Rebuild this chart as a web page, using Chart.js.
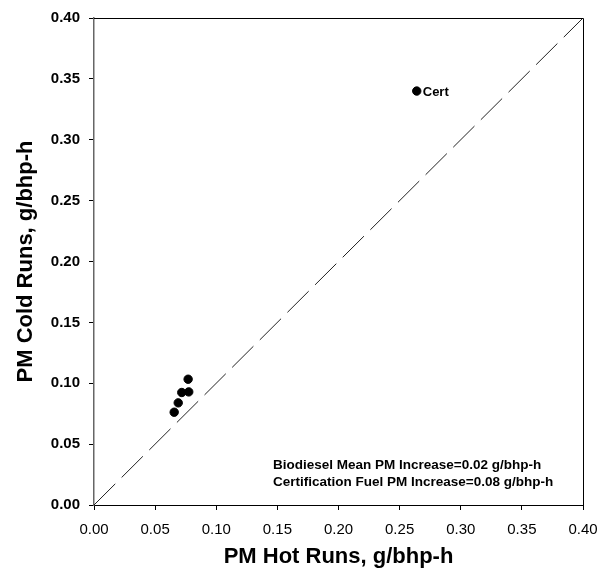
<!DOCTYPE html>
<html>
<head>
<meta charset="UTF-8">
<script src="https://cdn.jsdelivr.net/npm/chart.js@4.4.1/dist/chart.umd.min.js"></script>
<style>
  html, body { margin: 0; padding: 0; background: #fff; }
  #wrap { width: 612px; height: 576px; }
</style>
</head>
<body>
<div id="wrap"><canvas id="c" width="612" height="576"></canvas></div>
<script>
// biodiesel runs, g/bhp-h
const hotPM = [0.0656, 0.0689, 0.0718, 0.0775, 0.0770]
const coldPM = [0.0762, 0.0839, 0.0924, 0.0929, 0.1033]
// certification fuel
const certHot = [0.264]
const certCold = [0.340]
const certLabel = 'Cert'
// 1:1 reference line
const refLine = [0, 0.40]
const axisTicks = [0.00, 0.05, 0.10, 0.15, 0.20, 0.25, 0.30, 0.35, 0.40]
const notes = [
  'Biodiesel Mean PM Increase=0.02 g/bhp-h',
  'Certification Fuel PM Increase=0.08 g/bhp-h'
]

const FONT = '"Liberation Sans", Arial, sans-serif'

const toXY = (xs, ys) => xs.map((x, i) => ({ x: x, y: ys[i] }))

const extras = {
  id: 'extras',
  afterDraw(chart) {
    const { ctx, chartArea: a, scales } = chart
    ctx.save()
    // top / right frame
    ctx.strokeStyle = '#000'
    ctx.lineWidth = 1
    ctx.beginPath()
    ctx.moveTo(a.left, a.top + 0.5)
    ctx.lineTo(a.right + 0.5, a.top + 0.5)
    ctx.lineTo(a.right + 0.5, a.bottom)
    ctx.stroke()

    ctx.fillStyle = '#000'
    ctx.textBaseline = 'middle'
    ctx.textAlign = 'left'
    ctx.font = 'bold 13px ' + FONT
    const cx = scales.x.getPixelForValue(certHot[0])
    const cy = scales.y.getPixelForValue(certCold[0])
    ctx.fillText(certLabel, cx + 6, cy + 1)

    ctx.font = 'bold 13.5px ' + FONT
    notes.forEach((t, i) => ctx.fillText(t, a.left + 179, a.bottom - 40 + i * 17))
    ctx.restore()
  }
}

new Chart(document.getElementById('c'), {
  type: 'scatter',
  data: {
    datasets: [
      {
        type: 'line',
        data: toXY(refLine, refLine),
        borderColor: '#222',
        borderWidth: 1,
        borderDash: [30, 9],
        pointRadius: 0,
        fill: false
      },
      {
        data: toXY(hotPM, coldPM),
        backgroundColor: '#000',
        borderColor: '#000',
        pointRadius: 4.2
      },
      {
        data: toXY(certHot, certCold),
        backgroundColor: '#000',
        borderColor: '#000',
        pointRadius: 4.2
      }
    ]
  },
  options: {
    responsive: false,
    animation: false,
    layout: { padding: { left: 0, right: 29, top: 16, bottom: 0 } },
    plugins: { legend: { display: false }, tooltip: { enabled: false } },
    scales: {
      x: {
        type: 'linear',
        min: 0, max: 0.4,
        afterFit: s => { s.height = 71 },
        afterBuildTicks: s => { s.ticks = axisTicks.map(v => ({ value: v })) },
        ticks: {
          callback: v => v.toFixed(2),
          autoSkip: false, maxRotation: 0,
          color: '#000', padding: 11,
          font: { family: FONT, size: 15 }
        },
        grid: { drawOnChartArea: false, drawTicks: true, tickLength: 5, color: '#000' },
        border: { color: '#000', width: 1 },
        title: {
          display: true, text: 'PM Hot Runs, g/bhp-h', color: '#000',
          font: { family: FONT, size: 22, weight: 'bold', lineHeight: 1 },
          padding: { top: 0, bottom: 8 }
        }
      },
      y: {
        type: 'linear',
        min: 0, max: 0.4,
        afterFit: s => { s.width = 94 },
        afterBuildTicks: s => { s.ticks = axisTicks.map(v => ({ value: v })) },
        ticks: {
          callback: v => v.toFixed(2),
          autoSkip: false,
          color: '#000', padding: 9,
          font: { family: FONT, size: 15, weight: 'bold' }
        },
        grid: { drawOnChartArea: false, drawTicks: true, tickLength: 5, color: '#000' },
        border: { color: '#666', width: 1.5 },
        title: {
          display: true, text: 'PM Cold Runs, g/bhp-h', color: '#000',
          font: { family: FONT, size: 22, weight: 'bold', lineHeight: 1 },
          padding: { top: 15, bottom: 0 }
        }
      }
    }
  },
  plugins: [extras]
})
</script>
</body>
</html>
